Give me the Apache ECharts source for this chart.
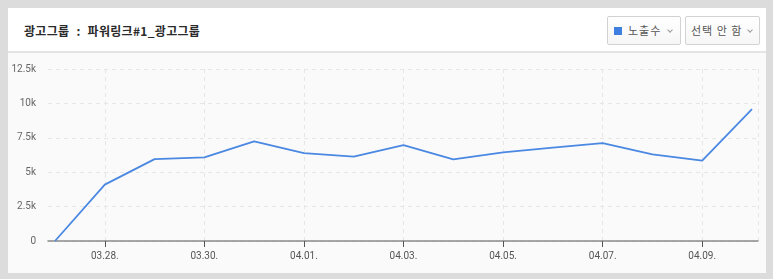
<!DOCTYPE html>
<html>
<head>
<meta charset="utf-8">
<script src="https://cdn.jsdelivr.net/npm/echarts@6/dist/echarts.min.js"></script>
<style>
  html, body { margin: 0; padding: 0; width: 773px; height: 279px; overflow: hidden; background: #dcdcdc; font-family: "Noto Sans CJK KR", "Noto Sans", sans-serif; }
  #card { position: absolute; left: 8px; top: 8px; width: 758px; height: 265px; background: #fafafa; }
  #header { position: absolute; left: 0; top: 0; width: 758px; height: 43px; background: #fff; border-bottom: 2px solid #e4e4e4; }
  #title { position: absolute; left: 16px; top: 14px; font-size: 12px; font-weight: bold; color: #2a2a2a; line-height: 18px; letter-spacing: 0.3px; white-space: nowrap; }
  .btn { position: absolute; top: 8px; height: 27px; border: 1px solid #d2d2d2; border-radius: 2px; background: linear-gradient(#ffffff, #f6f6f6); font-size: 11px; color: #555; line-height: 27px; box-sizing: content-box; }
  #btn1 { left: 599px; width: 72px; }
  #btn2 { left: 677px; width: 73px; }
  .sq { position: absolute; left: 6px; top: 10px; width: 8px; height: 8px; background: #3f7fe0; }
  .chev { position: absolute; top: 11px; width: 3px; height: 3px; border-right: 1px solid #999; border-bottom: 1px solid #999; transform: rotate(45deg); }
  #chart { position: absolute; left: 0; top: 0; width: 773px; height: 279px; }
</style>
</head>
<body>
<div id="card">
  <div id="header">
    <div id="title">광고그룹<span style="display:inline-block;width:7px"></span>:<span style="display:inline-block;width:7px"></span>파워링크#1_광고그룹</div>
    <div class="btn" id="btn1"><div class="sq"></div><span style="position:absolute;left:20px;letter-spacing:1px;">노출수</span><span class="chev" style="left:60px;"></span></div>
    <div class="btn" id="btn2"><span style="position:absolute;left:5px;letter-spacing:1px;">선택 안 함</span><span class="chev" style="left:62px;"></span></div>
  </div>
</div>
<div id="chart"></div>
<script>
const dates = ['03.27.', '03.28.', '03.29.', '03.30.', '03.31.', '04.01.', '04.02.', '04.03.', '04.04.', '04.05.', '04.06.', '04.07.', '04.08.', '04.09.', '04.10.'];
const impressions = [0, 4100, 5950, 6080, 7240, 6390, 6130, 6970, 5930, 6440, 6780, 7120, 6300, 5840, 9590];
const yTicks = { min: 0, max: 12500, interval: 2500 };

const chart = echarts.init(document.getElementById('chart'), null, { renderer: 'canvas' });
const everyOther = (idx) => idx % 2 === 1;
const dash = { color: '#e6e6e6', type: [4, 4], width: 1 };
chart.setOption({
  animation: false,
  backgroundColor: 'transparent',
  grid: [
    { left: 48, right: 15, top: 69, bottom: 38 },
    { left: 55, right: 21, top: 69, bottom: 38 }
  ],
  xAxis: [
    {
      gridIndex: 0, type: 'value', min: 0, max: 1, interval: 1,
      axisLine: { show: true, lineStyle: { color: '#8a8a8a', width: 1.5 } },
      axisTick: { show: false }, axisLabel: { show: false },
      splitLine: { show: true, showMinLine: false, lineStyle: dash }
    },
    {
      gridIndex: 1, type: 'category', data: dates, boundaryGap: false,
      axisLine: { show: false },
      axisTick: { show: true, interval: everyOther, length: 6, lineStyle: { color: '#555' } },
      axisLabel: { interval: everyOther, color: '#555', fontSize: 10, margin: 10, fontFamily: 'Roboto, sans-serif' },
      splitLine: { show: true, interval: everyOther, lineStyle: dash }
    }
  ],
  yAxis: [
    {
      gridIndex: 0, type: 'value', min: yTicks.min, max: yTicks.max, interval: yTicks.interval,
      axisLine: { show: false }, axisTick: { show: false },
      axisLabel: {
        color: '#666', fontSize: 10, margin: 12, fontFamily: 'Roboto, sans-serif',
        formatter: (v) => v === 0 ? '0' : (v / 1000) + 'k'
      },
      splitLine: { show: true, lineStyle: dash }
    },
    {
      gridIndex: 1, type: 'value', min: yTicks.min, max: yTicks.max, interval: yTicks.interval,
      show: false
    }
  ],
  series: [{
    name: '노출수', type: 'line', xAxisIndex: 1, yAxisIndex: 1,
    data: impressions, symbol: 'none',
    lineStyle: { color: '#4a88e2', width: 1.8 }
  }]
});
</script>
</body>
</html>
